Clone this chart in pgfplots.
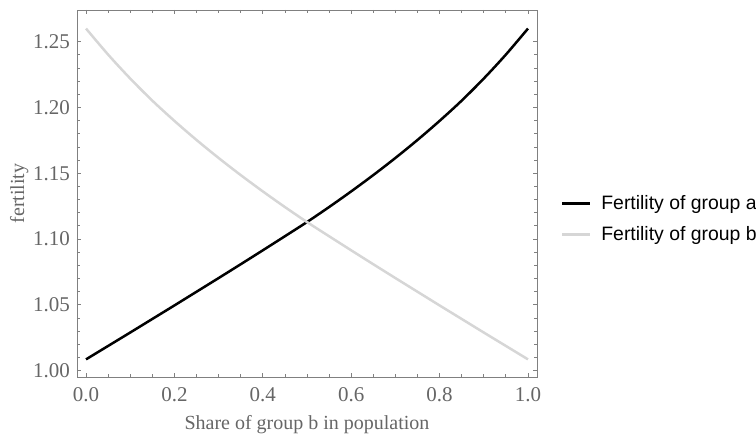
\documentclass[border=0pt]{standalone}
\usepackage{fontspec}
\setmainfont{Liberation Serif}
\newfontfamily\legendfont{Liberation Sans}
\usepackage{pgfplots}
\pgfplotsset{compat=1.18}
\usetikzlibrary{calc}
\definecolor{framegray}{HTML}{808080}
\definecolor{labelgray}{HTML}{666666}
\definecolor{lightline}{HTML}{D6D6D6}

\pgfplotstableread{
x    a
0.00 1.0085
0.05 1.0187
0.10 1.0289
0.15 1.0392
0.20 1.0495
0.25 1.0599
0.30 1.0703
0.35 1.0808
0.40 1.0914
0.45 1.1021
0.50 1.1129
0.55 1.1243
0.60 1.1362
0.65 1.1486
0.70 1.1616
0.75 1.1753
0.80 1.1898
0.85 1.2052
0.90 1.2220
0.95 1.2402
1.00 1.2600
}\groupa

\pgfplotstableread{
x    b
0.00 1.2600
0.05 1.2402
0.10 1.2220
0.15 1.2052
0.20 1.1898
0.25 1.1753
0.30 1.1616
0.35 1.1486
0.40 1.1362
0.45 1.1243
0.50 1.1129
0.55 1.1021
0.60 1.0914
0.65 1.0808
0.70 1.0703
0.75 1.0599
0.80 1.0495
0.85 1.0392
0.90 1.0289
0.95 1.0187
1.00 1.0085
}\groupb

\begin{document}
\begin{tikzpicture}
\begin{axis}[
    scale only axis,
    width=230pt, height=183.5pt,
    xmin=-0.0204, xmax=1.0204,
    ymin=0.9951, ymax=1.2741,
    axis line style={framegray},
    xtick={0,0.2,0.4,0.6,0.8,1.0},
    ytick={1.00,1.05,1.10,1.15,1.20,1.25},
    minor x tick num=3,
    minor y tick num=4,
    tick align=inside,
    major tick length=2.2pt,
    minor tick length=1.3pt,
    tick style={framegray, line width=0.4pt},
    xticklabel style={yshift=-1.5pt, /pgf/number format/.cd, fixed, fixed zerofill, precision=1, assume math mode=true},
    yticklabel style={/pgf/number format/.cd, fixed, fixed zerofill, precision=2, assume math mode=true},
    ticklabel style={text=labelgray, font=\fontsize{10.5}{12}\selectfont},
    xlabel={Share of group b in population},
    ylabel={fertility},
    label style={text=labelgray, font=\fontsize{10}{12}\selectfont},
    xlabel style={yshift=0pt},
    ylabel style={yshift=-4.5pt},
    legend style={
        at={(rel axis cs:1.038,0.43)}, anchor=west,
        draw=none, fill=none,
        font=\legendfont\fontsize{9.7}{11}\selectfont,
        row sep=3pt,
    },
    legend cell align=left,
    legend image code/.code={\draw[#1] (0pt,0pt) -- (14pt,0pt); \path (17pt,0pt);},
]
\addplot[black, line width=1.25pt, smooth] table[x=x, y=a] {\groupa};
\addlegendentry{Fertility of group a}
\addplot[lightline, line width=1.25pt, smooth] table[x=x, y=b] {\groupb};
\addlegendentry{Fertility of group b}
\coordinate (sw) at (rel axis cs:0,0);
\end{axis}
\pgfresetboundingbox
\useasboundingbox ($(sw)+(-38.5pt,-30pt)$) rectangle ++(378pt,218.5pt);
\end{tikzpicture}
\end{document}
